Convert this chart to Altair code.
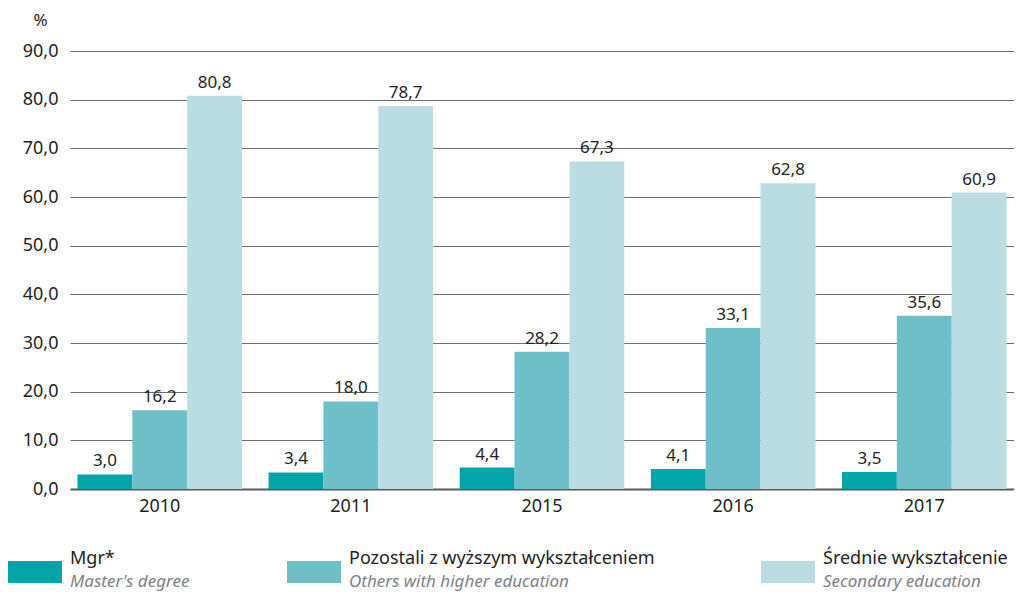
import altair as alt
import pandas as pd

years = ["2010", "2011", "2015", "2016", "2017"]
series = ["Mgr*", "Pozostali z wyższym wykształceniem", "Średnie wykształcenie"]
series_en = ["Master's degree", "Others with higher education", "Secondary education"]
mgr = [3.0, 3.4, 4.4, 4.1, 3.5]
others = [16.2, 18.0, 28.2, 33.1, 35.6]
secondary = [80.8, 78.7, 67.3, 62.8, 60.9]
colors = ["#00a4a9", "#6dc0c7", "#b9dde2"]

FONT = "Noto Sans"

rows = []
for vals, s in zip([mgr, others, secondary], series):
    for y, v in zip(years, vals):
        rows.append({"year": y, "series": s, "value": v})
df = pd.DataFrame(rows)
leg = pd.DataFrame({"series": series, "en": series_en, "idx": list(range(len(series)))})

color = alt.Color("series:N", scale=alt.Scale(domain=series, range=colors), legend=None)
x = alt.X("year:N", sort=years,
          scale=alt.Scale(paddingInner=0.139, paddingOuter=0.039),
          axis=alt.Axis(title=None, labelAngle=0, domain=True, domainColor="#58595b",
                        domainWidth=2, ticks=False, labelPadding=8, labelFontSize=18,
                        labelColor="#231f20", labelFont=FONT))
xoff = alt.XOffset("series:N", sort=series, scale=alt.Scale(domain=series, paddingInner=0, paddingOuter=0))
y = alt.Y("value:Q", scale=alt.Scale(domain=[0, 90]),
          axis=alt.Axis(values=list(range(0, 100, 10)), grid=True, gridColor="#6d6e71",
                        gridWidth=1, domain=False, ticks=False, labelPadding=12,
                        labelFontSize=18, labelColor="#231f20", labelFont=FONT,
                        labelExpr="replace(format(datum.value, '.1f'), '.', ',')",
                        title="%", titleAngle=0, titleX=-30, titleY=-26, titleAlign="center",
                        titleBaseline="alphabetic", titleFontWeight="normal", titleFontSize=17,
                        titleColor="#231f20", titleFont=FONT))

bars = alt.Chart(df).mark_bar().encode(x=x, xOffset=xoff, y=y, color=color)
labels = alt.Chart(df).transform_calculate(
    lab="replace(format(datum.value, '.1f'), '.', ',')"
).mark_text(baseline="alphabetic", dy=-8, fontSize=17, color="#231f20", font=FONT).encode(
    x=x, xOffset=xoff, y=y, text="lab:N")
main = alt.layer(bars, labels)

lx = alt.X("idx:Q", scale=alt.Scale(domain=[0, 1, 2], range=[-62, 217, 691]), axis=None)
sq = alt.Chart(leg).mark_point(
    shape="M-1,-0.407L1,-0.407L1,0.407L-1,0.407Z", size=2916, filled=True, opacity=1,
    xOffset=27).encode(x=lx, y=alt.value(521), color=color)
t1 = alt.Chart(leg).mark_text(align="left", baseline="alphabetic", xOffset=62, fontSize=18,
                              color="#231f20", font=FONT).encode(
    x=lx, y=alt.value(513), text="series:N")
t2 = alt.Chart(leg).mark_text(align="left", baseline="alphabetic", xOffset=62, fontSize=17,
                              fontStyle="italic", color="#808285", font=FONT).encode(
    x=lx, y=alt.value(536), text="en:N")
legend = alt.layer(sq, t1, t2)

chart = alt.layer(main, legend).resolve_scale(x="independent").properties(
    width=944, height=438,
    autosize=alt.AutoSizeParams(type="none"),
    padding={"left": 62, "top": 43, "right": 0, "bottom": 105},
).configure_view(stroke=None)

chart.save("out.html", embed_options={"renderer": "svg", "actions": False})
